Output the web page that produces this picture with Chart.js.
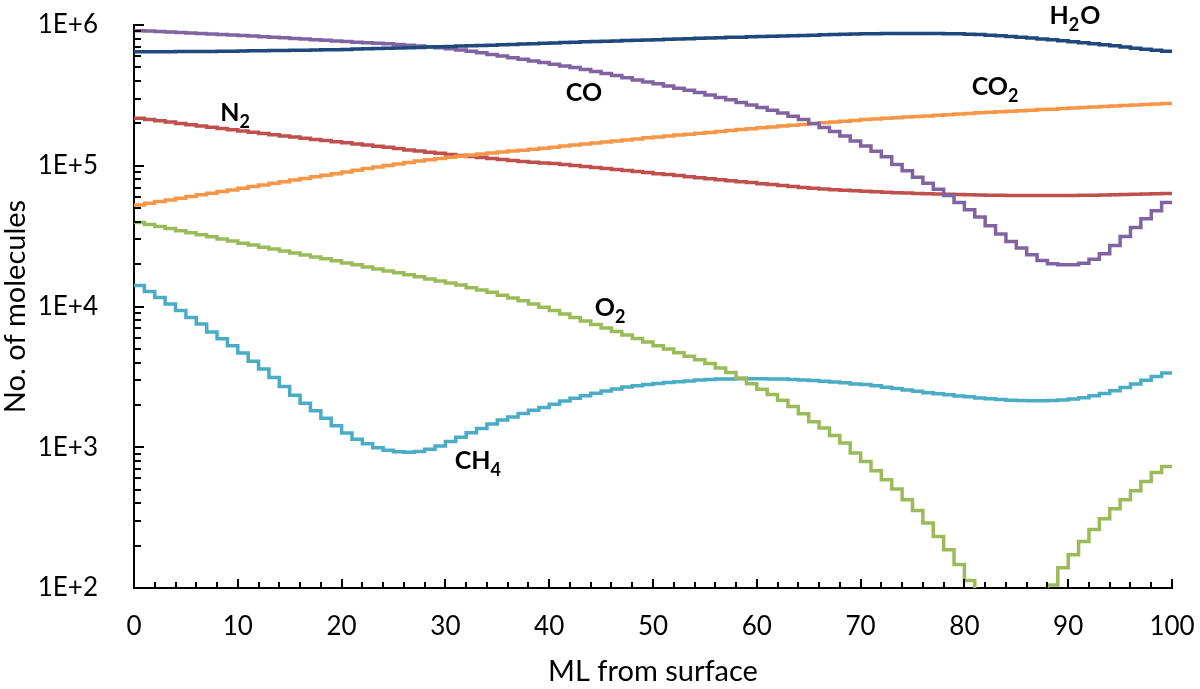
<!DOCTYPE html>
<html>
<head>
<meta charset="utf-8">
<title>Molecules vs depth</title>
<script src="https://cdn.jsdelivr.net/npm/chart.js@4.4.0/dist/chart.umd.min.js"></script>
<style>
  body { margin: 0; background: #fff; }
  #wrap { width: 1200px; height: 689px; }
</style>
</head>
<body>
<div id="wrap"><canvas id="molChart" width="1200" height="689"></canvas></div>
<script>
// ML from surface, 0..100 in steps of 1
const ml = Array.from({length: 101}, (_, i) => i);

const h2o = [646000,646000,646000,646000,647000,647000,649000,649000,650000,652000,
  653000,655000,656000,658000,659000,661000,662000,665000,667000,668000,
  671000,675000,678000,681000,684000,687000,690000,693000,697000,700000,
  703000,708000,711000,716000,719000,724000,728000,733000,736000,741000,
  745000,750000,753000,759000,762000,767000,771000,776000,780000,783000,
  787000,793000,796000,800000,804000,807000,813000,817000,820000,824000,
  828000,832000,836000,839000,843000,847000,851000,855000,859000,863000,
  865000,867000,869000,871000,871000,871000,871000,869000,867000,865000,
  861000,855000,847000,839000,830000,818000,807000,796000,785000,773000,
  760000,748000,736000,724000,711000,698000,685000,673000,661000,650000,
  641000];

const co = [912000,906000,899000,891000,885000,877000,871000,863000,857000,849000,
  841000,834000,826000,818000,811000,802000,794000,785000,778000,769000,
  762000,755000,748000,741000,735000,726000,719000,710000,700000,689000,
  678000,665000,650000,634000,618000,601000,585000,570000,556000,541000,
  526000,512000,498000,483000,468000,452000,437000,422000,407000,394000,
  382000,369000,356000,344000,331000,318000,306000,294000,282000,270000,
  259000,248000,237000,225000,213000,200000,187000,175000,163000,150000,
  138000,127000,116000,102000,92000,83000,75200,68200,61400,54800,
  48600,43200,37400,32800,29000,26000,23300,21200,20100,19800,
  19800,20300,21700,23700,27100,31400,36400,42000,47900,54800,
  54800];

const co2 = [52700,54200,55700,57100,58700,60400,62100,63800,65600,67300,
  69200,71100,72900,75000,76900,79100,81300,83400,85700,87900,
  90400,92900,95500,97900,100500,103000,105400,107900,110200,112500,
  114800,117000,119100,121100,123000,125000,127100,129100,131200,133400,
  135500,138000,140300,142900,145200,147600,150000,152400,155200,157800,
  160300,162600,165200,167500,170200,172600,175400,177800,180700,183200,
  186200,188800,191400,193600,196300,199100,201800,204600,207000,209900,
  212800,214800,217300,219300,221800,223900,225900,228600,230700,233300,
  235500,237700,239900,241500,243800,246000,248300,250600,252300,254700,
  257000,259100,261200,263300,265500,267600,269800,272000,274200,276400,
  278600];

const n2 = [217800,213300,208400,204200,199500,195400,191400,187500,183700,180300,
  176600,173000,169400,166300,162900,160000,156700,153800,151000,148300,
  145500,142900,140300,137700,135200,132700,129400,127100,124700,122500,
  120200,118300,116400,114600,112700,110900,109100,107400,105900,104700,
  103700,102100,100500,98900,97200,95700,94200,92700,91200,89500,
  87900,86500,85100,83600,82200,80900,79600,78300,77100,75900,
  74600,73500,72300,71100,70100,69200,68400,67600,67000,66400,
  65800,65300,64900,64400,64000,63500,63200,63000,62700,62400,
  62100,61900,61800,61700,61500,61500,61500,61500,61500,61500,
  61500,61700,61800,61900,62200,62500,62800,63100,63200,63500,
  63800];

const o2 = [39500,38300,37000,35800,34600,33400,32400,31300,30200,29200,
  28200,27300,26400,25600,24800,24000,23200,22500,21800,21100,
  20400,19800,19100,18500,17900,17400,16800,16300,15700,15200,
  14700,14200,13600,13100,12600,12000,11500,11000,10400,9890,
  9350,8850,8360,7890,7450,7030,6640,6270,5920,5590,
  5270,4980,4700,4440,4190,3940,3660,3390,3100,2830,
  2580,2370,2160,1950,1730,1520,1370,1210,1070,910,
  793,681,587,505,424,356,290,232,187,147,
  113,75,55,44,40,42,52,72,105,139,
  172,214,260,310,366,424,491,571,662,731,
  731];

const ch4 = [14100,12800,11600,10400,9380,8360,7500,6580,5900,5260,
  4670,4090,3590,3130,2700,2340,2050,1820,1610,1420,
  1260,1140,1060,993,951,929,923,933,966,1020,
  1100,1180,1270,1360,1460,1560,1640,1740,1830,1920,
  2020,2130,2230,2320,2420,2510,2590,2680,2740,2790,
  2840,2880,2920,2960,3000,3030,3050,3060,3070,3070,
  3070,3060,3050,3030,3010,2980,2940,2910,2870,2820,
  2790,2730,2670,2610,2550,2500,2440,2400,2360,2310,
  2280,2240,2210,2180,2160,2150,2140,2140,2150,2170,
  2200,2250,2320,2410,2520,2660,2820,2990,3180,3370,
  3370];

const seriesNames = ['H2O', 'CO', 'CO2', 'N2', 'O2', 'CH4'];
const seriesData = [h2o, co, co2, n2, o2, ch4];
const seriesColors = ['#1F497D', '#8064A2', '#F79646', '#C0504D', '#9BBB59', '#4BACC6'];

// in-plot labels: pieces [text, isSubscript], anchored at (ML, molecules)
const tagParts = [
  [['H', false], ['2', true], ['O', false]],
  [['CO', false]],
  [['CO', false], ['2', true]],
  [['N', false], ['2', true]],
  [['O', false], ['2', true]],
  [['CH', false], ['4', true]]
];
const tagX = [88.2, 41.6, 80.7, 8.3, 44.4, 30.9];
const tagY = [1156000, 330000, 363000, 237700, 9700, 793];

const yMajorTicks = [100, 1000, 10000, 100000, 1000000];

const FONT = 'Lato, "Open Sans", sans-serif';

// axis tick marks pointing into the plot, as in the original
const inwardTicks = {
  id: 'inwardTicks',
  afterDraw(chart) {
    const {ctx, scales: {x, y}} = chart;
    ctx.save();
    ctx.strokeStyle = '#000';
    ctx.lineWidth = 2;
    ctx.beginPath();
    for (let v = 0; v <= 100; v += 2) {
      const px = Math.round(x.getPixelForValue(v));
      const len = v % 10 === 0 ? 9 : 6;
      ctx.moveTo(px, x.top);
      ctx.lineTo(px, x.top - len);
    }
    yMajorTicks.forEach(function(base, i) {
      const py = Math.round(y.getPixelForValue(base));
      ctx.moveTo(y.right, py);
      ctx.lineTo(y.right + 10, py);
      if (i === yMajorTicks.length - 1) return;
      for (let m = 2; m <= 9; m++) {
        const pm = Math.round(y.getPixelForValue(base * m));
        ctx.moveTo(y.right, pm);
        ctx.lineTo(y.right + 7, pm);
      }
    });
    ctx.stroke();
    ctx.restore();
  }
};

const seriesTags = {
  id: 'seriesTags',
  afterDatasetsDraw(chart) {
    const {ctx, scales: {x, y}} = chart;
    ctx.save();
    ctx.fillStyle = '#000';
    ctx.textAlign = 'left';
    ctx.textBaseline = 'middle';
    tagParts.forEach(function(parts, i) {
      let px = x.getPixelForValue(tagX[i]);
      const py = y.getPixelForValue(tagY[i]);
      parts.forEach(function(p) {
        ctx.font = p[1] ? 'bold 18px ' + FONT : 'bold 25px ' + FONT;
        ctx.fillText(p[0], px, p[1] ? py + 9 : py);
        px += ctx.measureText(p[0]).width + (p[1] ? 1 : 0);
      });
    });
    ctx.restore();
  }
};

new Chart(document.getElementById('molChart').getContext('2d'), {
  type: 'line',
  data: {
    labels: ml,
    datasets: seriesData.map(function(d, i) {
      return {
        label: seriesNames[i],
        data: d,
        borderColor: seriesColors[i],
        backgroundColor: seriesColors[i],
        borderWidth: 3.5,
        pointRadius: 0,
        stepped: true,
        fill: false
      };
    })
  },
  options: {
    responsive: false,
    animation: false,
    layout: { padding: { top: 25, right: 28, left: 0, bottom: 0 } },
    plugins: {
      legend: { display: false },
      tooltip: { enabled: false }
    },
    scales: {
      x: {
        type: 'linear',
        min: 0,
        max: 100,
        grid: { display: false },
        border: { display: true, color: '#000', width: 2 },
        ticks: {
          stepSize: 10,
          color: '#000',
          padding: 15,
          maxRotation: 0,
          font: { family: FONT, size: 26 }
        },
        title: {
          display: true,
          text: 'ML from surface',
          color: '#000',
          font: { family: FONT, size: 29, lineHeight: 1 },
          padding: { top: 0, bottom: 3 }
        },
        afterFit: function(scale) {
          scale.height = 101;
          scale.paddingLeft = 0;
          scale.paddingRight = 0;
        }
      },
      y: {
        type: 'logarithmic',
        min: 100,
        max: 1000000,
        grid: { display: false },
        border: { display: true, color: '#000', width: 2 },
        afterBuildTicks: function(scale) {
          scale.ticks = yMajorTicks.map(function(v) { return {value: v}; });
        },
        ticks: {
          color: '#000',
          padding: 28,
          autoSkip: false,
          font: { family: FONT, size: 26 },
          callback: function(value) {
            return '1E+' + Math.round(Math.log10(value));
          }
        },
        title: {
          display: true,
          text: 'No. of molecules',
          color: '#000',
          font: { family: FONT, size: 29, lineHeight: 1 },
          padding: { top: 1, bottom: 0 }
        },
        afterFit: function(scale) {
          scale.width = 134;
          scale.paddingTop = 0;
          scale.paddingBottom = 0;
        }
      }
    }
  },
  plugins: [inwardTicks, seriesTags]
});
</script>
</body>
</html>
